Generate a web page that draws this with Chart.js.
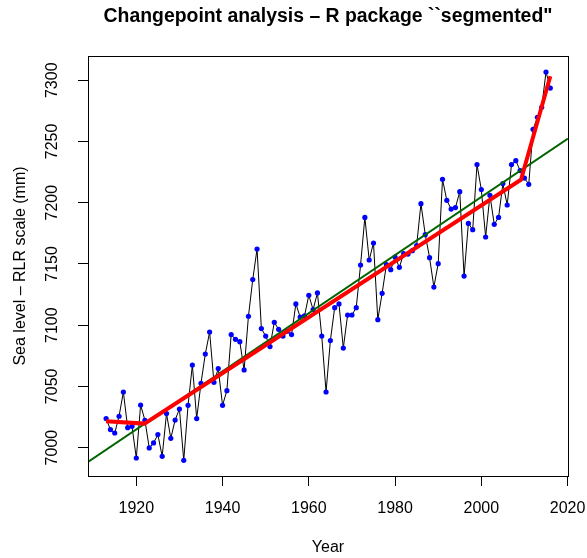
<!DOCTYPE html>
<html>
<head>
<meta charset="utf-8">
<script src="https://cdn.jsdelivr.net/npm/chart.js@4/dist/chart.umd.min.js"></script>
<style>
  html, body { margin: 0; padding: 0; background: #fff; }
  canvas { display: block; }
</style>
</head>
<body>
<canvas id="seaLevelChart" width="587" height="558"></canvas>
<script>
// annual mean sea level, RLR scale (mm)
const years = [
  1913, 1914, 1915, 1916, 1917, 1918, 1919, 1920, 1921, 1922,
  1923, 1924, 1925, 1926, 1927, 1928, 1929, 1930, 1931, 1932,
  1933, 1934, 1935, 1936, 1937, 1938, 1939, 1940, 1941, 1942,
  1943, 1944, 1945, 1946, 1947, 1948, 1949, 1950, 1951, 1952,
  1953, 1954, 1955, 1956, 1957, 1958, 1959, 1960, 1961, 1962,
  1963, 1964, 1965, 1966, 1967, 1968, 1969, 1970, 1971, 1972,
  1973, 1974, 1975, 1976, 1977, 1978, 1979, 1980, 1981, 1982,
  1983, 1984, 1985, 1986, 1987, 1988, 1989, 1990, 1991, 1992,
  1993, 1994, 1995, 1996, 1997, 1998, 1999, 2000, 2001, 2002,
  2003, 2004, 2005, 2006, 2007, 2008, 2009, 2010, 2011, 2012,
  2013, 2014, 2015, 2016
];
const seaLevel = [
  7023.7, 7014.7, 7011.9, 7025.6, 7045.4, 7016.3, 7017.4, 6991.5, 7034.8, 7022.3,
  6999.7, 7003.8, 7010.6, 6992.9, 7027.8, 7007.6, 7022.5, 7031.5, 6989.6, 7034.5,
  7067.4, 7023.7, 7052.5, 7076.4, 7094.4, 7053.3, 7064.5, 7034.5, 7046.5, 7092.3,
  7088.4, 7086.5, 7063.4, 7107.2, 7137.2, 7162.2, 7097.2, 7091.1, 7082.5, 7102.3,
  7096.6, 7091.1, 7095.0, 7092.3, 7117.3, 7106.6, 7107.5, 7124.4, 7112.7, 7126.3,
  7091.1, 7045.4, 7087.4, 7114.3, 7117.3, 7081.3, 7108.3, 7108.3, 7114.3, 7149.1,
  7188.0, 7153.2, 7167.1, 7104.5, 7126.0, 7149.4, 7145.3, 7155.6, 7147.2, 7158.4,
  7158.0, 7160.8, 7165.0, 7199.2, 7173.9, 7155.1, 7131.1, 7150.2, 7219.1, 7201.9,
  7194.8, 7196.0, 7209.0, 7140.1, 7183.1, 7178.0, 7231.1, 7210.7, 7172.0, 7206.0,
  7182.3, 7188.0, 7215.6, 7198.1, 7231.1, 7234.3, 7226.2, 7220.1, 7215.0, 7259.9,
  7269.7, 7277.9, 7306.7, 7293.6
];

// straight-line fit, drawn edge to edge like abline()
const linearFitX = [1908.8, 2020.1];
const linearFitY = [6988.3, 7252.3];

// segmented fit: start, breakpoint 1, breakpoint 2, end
const segmentX = [1913, 1921.9, 2009.2, 2016];
const segmentY = [7021.5, 7019.6, 7218.8, 7303.2];

const xTicks = [1920, 1940, 1960, 1980, 2000, 2020];
const yTicks = [7000, 7050, 7100, 7150, 7200, 7250, 7300];

const xRange = [1908.8, 2020.1];
const yRange = [6976.8, 7319.8];

const FONT = "'Liberation Sans', Arial, Helvetica, sans-serif";

const toPoints = (xs, ys) => xs.map((x, i) => ({ x: x, y: ys[i] }));

// base-graphics look: box, outward ticks, rotated y labels, titles
const rStylePlugin = {
  id: 'rStyle',
  beforeDraw(chart) {
    const ctx = chart.ctx;
    ctx.save();
    ctx.fillStyle = '#fff';
    ctx.fillRect(0, 0, chart.width, chart.height);
    ctx.restore();
  },
  afterDraw(chart) {
    const ctx = chart.ctx;
    const area = chart.chartArea;
    const xs = chart.scales.x;
    const ys = chart.scales.y;

    ctx.save();
    ctx.strokeStyle = '#000';
    ctx.lineWidth = 1;
    ctx.strokeRect(Math.round(area.left) + 0.5, Math.round(area.top) + 0.5,
      Math.round(area.right - area.left), Math.round(area.bottom - area.top));

    ctx.fillStyle = '#000';
    ctx.font = '16px ' + FONT;

    // x tick labels
    ctx.textAlign = 'center';
    ctx.textBaseline = 'alphabetic';
    xs.ticks.forEach(t => {
      ctx.fillText(String(t.value), xs.getPixelForValue(t.value), 512.5);
    });

    // y tick labels, rotated like las = 0
    ys.ticks.forEach(t => {
      ctx.save();
      ctx.translate(56.5, ys.getPixelForValue(t.value));
      ctx.rotate(-Math.PI / 2);
      ctx.fillText(String(t.value), 0, 0);
      ctx.restore();
    });

    // axis titles
    ctx.fillText('Year', (area.left + area.right) / 2, 551.5);
    ctx.save();
    ctx.translate(25, (area.top + area.bottom) / 2);
    ctx.rotate(-Math.PI / 2);
    ctx.fillText('Sea level \u2013 RLR scale (mm)', 0, 0);
    ctx.restore();

    // main title
    ctx.font = 'bold 19.4px ' + FONT;
    ctx.fillText('Changepoint analysis \u2013 R package ``segmented"', (area.left + area.right) / 2, 22);
    ctx.restore();
  }
};

const tickGrid = {
  drawOnChartArea: false,
  drawTicks: true,
  tickLength: 10,
  color: '#000',
  lineWidth: 1
};

new Chart(document.getElementById('seaLevelChart').getContext('2d'), {
  type: 'scatter',
  data: {
    datasets: [
      {
        label: 'Segmented fit',
        data: toPoints(segmentX, segmentY),
        showLine: true,
        borderColor: '#ff0000',
        borderWidth: 4,
        pointRadius: 0,
        order: 1
      },
      {
        label: 'Linear fit',
        data: toPoints(linearFitX, linearFitY),
        showLine: true,
        borderColor: '#006400',
        borderWidth: 2,
        pointRadius: 0,
        order: 2
      },
      {
        label: 'Sea level',
        data: toPoints(years, seaLevel),
        showLine: true,
        borderColor: '#000',
        borderWidth: 1,
        pointRadius: 2.6,
        pointBorderWidth: 0,
        pointBackgroundColor: '#0000ff',
        pointBorderColor: '#0000ff',
        order: 3
      }
    ]
  },
  options: {
    responsive: false,
    animation: false,
    devicePixelRatio: 1,
    layout: {
      padding: { top: 56, right: 19, left: 0, bottom: 0 }
    },
    plugins: {
      legend: { display: false },
      tooltip: { enabled: false },
      title: { display: false }
    },
    scales: {
      x: {
        type: 'linear',
        min: xRange[0],
        max: xRange[1],
        border: { display: false },
        grid: tickGrid,
        ticks: { display: false },
        afterBuildTicks: scale => { scale.ticks = xTicks.map(v => ({ value: v })); },
        afterFit: scale => { scale.height = 82; }
      },
      y: {
        type: 'linear',
        min: yRange[0],
        max: yRange[1],
        border: { display: false },
        grid: tickGrid,
        ticks: { display: false },
        afterBuildTicks: scale => { scale.ticks = yTicks.map(v => ({ value: v })); },
        afterFit: scale => { scale.width = 88; }
      }
    }
  },
  plugins: [rStylePlugin]
});
</script>
</body>
</html>
